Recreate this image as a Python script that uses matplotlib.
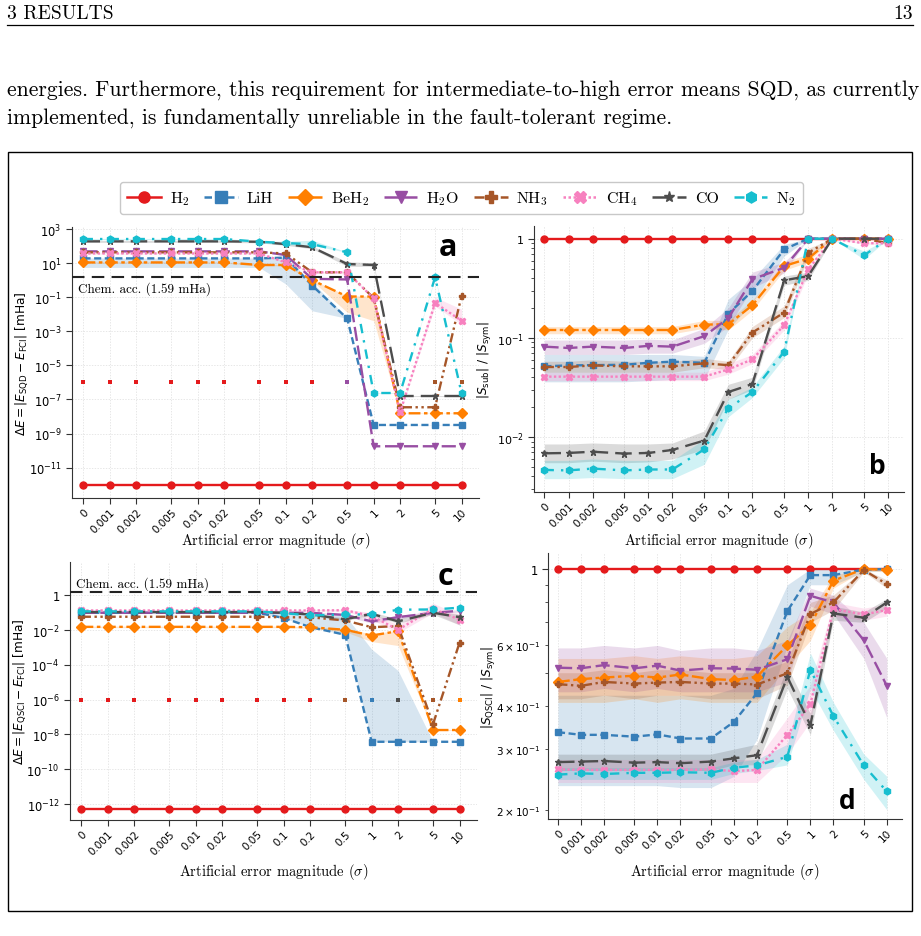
import numpy as np
import matplotlib
matplotlib.use("Agg")
import matplotlib.pyplot as plt
from matplotlib.patches import Rectangle
from matplotlib.lines import Line2D
from matplotlib.font_manager import FontProperties
from matplotlib.ticker import FixedLocator, FuncFormatter, NullLocator

plt.rcParams["axes.formatter.use_mathtext"] = True
plt.rcParams["mathtext.fontset"] = "dejavusans"

# ---- data -------------------------------------------------------------
sigma = [0, 0.001, 0.002, 0.005, 0.01, 0.02, 0.05, 0.1, 0.2, 0.5, 1, 2, 5, 10]
sigma_labels = ["0", "0.001", "0.002", "0.005", "0.01", "0.02", "0.05",
                "0.1", "0.2", "0.5", "1", "2", "5", "10"]

molecules = ["H2", "LiH", "BeH2", "H2O", "NH3", "CH4", "CO", "N2"]
labels = ["H$_2$", "LiH", "BeH$_2$", "H$_2$O", "NH$_3$", "CH$_4$", "CO", "N$_2$"]

chem_acc = 1.59  # mHa

# (a) SQD energy error [mHa]
sqd_err = {
    "H2":   [9e-13, 9e-13, 9e-13, 9e-13, 9e-13, 9e-13, 9e-13, 9e-13, 9e-13, 9e-13, 9e-13, 9e-13, 9e-13, 9e-13],
    "LiH":  [19, 19, 19, 19, 19, 19, 19, 21, 0.48, 0.0057, 3.2e-9, 3.2e-9, 3.2e-9, 3.2e-9],
    "BeH2": [11, 11, 11, 11, 11, 11, 7.8, 7.8, 1.0, 0.11, 0.11, 1.55e-8, 1.55e-8, 1.55e-8],
    "H2O":  [49, 49, 49, 49, 49, 49, 49, 30, 1.2, 1.1, 1.8e-10, 1.8e-10, 1.8e-10, 1.8e-10],
    "NH3":  [43, 43, 43, 43, 43, 43, 43, 37, 2.9, 2.9, 0.09, 3.5e-8, 3.5e-8, 0.12],
    "CH4":  [37, 37, 37, 37, 37, 37, 37, 11, 2.9, 2.9, 0.085, 1.8e-8, 0.046, 0.0042],
    "CO":   [190, 190, 190, 190, 190, 190, 180, 130, 85, 8.9, 7.8, 1.6e-7, 1.6e-7, 1.6e-7],
    "N2":   [260, 260, 260, 260, 260, 260, 180, 150, 130, 43, 2.4e-7, 2.4e-7, 1.5, 2.4e-7],
}
sqd_err_lo = {
    "LiH":  [5.6, 5.6, 5.6, 5.6, 5.6, 5.6, 5.6, 0.6, 0.016, 0.0057, 3.2e-9, 3.2e-9, 3.2e-9, 3.2e-9],
    "BeH2": [10, 10, 10, 10, 10, 10, 7, 7, 0.9, 0.013, 0.0042, 1.5e-8, 1.5e-8, 1.5e-8],
    "CO":   [165, 165, 165, 165, 165, 165, 155, 110, 70, 6.5, 6.5, 1.5e-7, 1.5e-7, 1.5e-7],
    "N2":   [240, 240, 240, 240, 240, 240, 160, 120, 110, 43, 2.3e-7, 2.3e-7, 1.3, 2.3e-7],
    "CH4":  [34, 34, 34, 34, 34, 34, 34, 10, 2.6, 2.6, 0.07, 1.7e-8, 0.03, 0.0025],
}
sqd_err_hi = {
    "LiH":  [20, 20, 20, 20, 20, 20, 20, 22, 0.75, 0.0062, 3.3e-9, 3.3e-9, 3.3e-9, 3.3e-9],
    "BeH2": [12, 12, 12, 12, 12, 12, 8.5, 8.5, 1.1, 0.12, 0.12, 1.6e-8, 1.6e-8, 1.6e-8],
    "CO":   [215, 215, 215, 215, 215, 215, 200, 150, 100, 12, 10.5, 1.7e-7, 1.7e-7, 1.7e-7],
    "N2":   [280, 280, 280, 280, 280, 280, 200, 190, 220, 45, 2.5e-7, 2.5e-7, 1.7, 2.5e-7],
    "CH4":  [40, 40, 40, 40, 40, 40, 40, 12, 3.2, 3.2, 0.1, 1.9e-8, 0.1, 0.02],
}
sqd_floor_idx = [0, 1, 2, 3, 4, 5, 6, 7, 8, 9, 12, 13]
sqd_floor_mol = ["H2", "H2", "H2", "H2", "H2", "H2", "H2", "H2", "H2", "H2O", "NH3", "NH3"]
floor_val = 1e-6

# (b) SQD subspace fraction
sqd_sub = {
    "H2":   [1, 1, 1, 1, 1, 1, 1, 1, 1, 1, 1, 1, 1, 1],
    "LiH":  [0.0516, 0.0527, 0.053, 0.0535, 0.056, 0.0575, 0.056, 0.175, 0.297, 0.78, 1, 1, 1, 1],
    "BeH2": [0.12, 0.12, 0.12, 0.12, 0.12, 0.12, 0.136, 0.137, 0.213, 0.53, 0.63, 1, 1, 1],
    "H2O":  [0.0815, 0.079, 0.0815, 0.079, 0.083, 0.0815, 0.104, 0.158, 0.39, 0.51, 1, 1, 1, 1],
    "NH3":  [0.0508, 0.0508, 0.0527, 0.0516, 0.0516, 0.0516, 0.0553, 0.053, 0.113, 0.18, 0.72, 1, 1, 0.9],
    "CH4":  [0.0406, 0.0406, 0.0406, 0.0406, 0.0406, 0.0406, 0.0406, 0.048, 0.0607, 0.134, 0.49, 1, 0.9, 0.9],
    "CO":   [0.00684, 0.0069, 0.0071, 0.0068, 0.0069, 0.0074, 0.0092, 0.0284, 0.0342, 0.38, 0.42, 1, 1, 1],
    "N2":   [0.00465, 0.0046, 0.0048, 0.0046, 0.0047, 0.0047, 0.0075, 0.0195, 0.0284, 0.0725, 1, 1, 0.68, 1],
}
sqd_sub_lo = {
    "LiH":  [0.036, 0.036, 0.036, 0.036, 0.037, 0.038, 0.038, 0.122, 0.226, 0.668, 1, 1, 1, 1],
    "BeH2": [0.11, 0.11, 0.11, 0.11, 0.11, 0.11, 0.125, 0.12, 0.19, 0.48, 0.58, 1, 1, 1],
    "H2O":  [0.068, 0.068, 0.068, 0.068, 0.07, 0.07, 0.088, 0.13, 0.32, 0.45, 1, 1, 1, 1],
    "NH3":  [0.045, 0.045, 0.045, 0.045, 0.045, 0.045, 0.05, 0.048, 0.1, 0.16, 0.65, 1, 1, 0.88],
    "CH4":  [0.037, 0.037, 0.037, 0.037, 0.037, 0.037, 0.037, 0.043, 0.055, 0.12, 0.44, 1, 0.88, 0.88],
    "CO":   [0.0055, 0.0055, 0.0057, 0.0055, 0.0056, 0.006, 0.0075, 0.024, 0.03, 0.34, 0.38, 1, 1, 1],
    "N2":   [0.0038, 0.0038, 0.0039, 0.0038, 0.0038, 0.0038, 0.0053, 0.016, 0.025, 0.063, 1, 1, 0.62, 1],
}
sqd_sub_hi = {
    "LiH":  [0.068, 0.068, 0.068, 0.068, 0.068, 0.068, 0.065, 0.245, 0.39, 0.877, 1, 1, 1, 1],
    "BeH2": [0.13, 0.13, 0.13, 0.13, 0.13, 0.13, 0.15, 0.15, 0.24, 0.58, 0.7, 1, 1, 1],
    "H2O":  [0.095, 0.095, 0.095, 0.095, 0.097, 0.095, 0.125, 0.2, 0.46, 0.58, 1, 1, 1, 1],
    "NH3":  [0.058, 0.058, 0.06, 0.058, 0.058, 0.058, 0.062, 0.058, 0.13, 0.21, 0.8, 1, 1, 0.92],
    "CH4":  [0.045, 0.045, 0.045, 0.045, 0.045, 0.045, 0.045, 0.055, 0.068, 0.15, 0.55, 1, 0.93, 0.93],
    "CO":   [0.0085, 0.0085, 0.0087, 0.0085, 0.0085, 0.0087, 0.0115, 0.034, 0.04, 0.42, 0.46, 1, 1, 1],
    "N2":   [0.0058, 0.0058, 0.006, 0.0058, 0.0058, 0.0058, 0.0095, 0.024, 0.032, 0.083, 1, 1, 0.75, 1],
}

# (c) QSCI energy error [mHa]
qsci_err = {
    "H2":   [5.1e-13, 5.1e-13, 5.1e-13, 5.1e-13, 5.1e-13, 5.1e-13, 5.1e-13, 5.1e-13, 5.1e-13, 5.1e-13, 5.1e-13, 5.1e-13, 5.1e-13, 5.1e-13],
    "LiH":  [0.1, 0.1, 0.1, 0.1, 0.1, 0.1, 0.1, 0.05, 0.015, 0.0054, 3.8e-9, 3.8e-9, 3.8e-9, 3.8e-9],
    "BeH2": [0.0155, 0.0155, 0.0155, 0.0155, 0.0155, 0.0155, 0.0155, 0.0155, 0.0147, 0.0105, 0.0049, 0.0088, 1.8e-8, 1.8e-8],
    "H2O":  [0.1, 0.1, 0.1, 0.1, 0.1, 0.1, 0.1, 0.1, 0.1, 0.075, 0.032, 0.056, 0.1, 0.13],
    "NH3":  [0.059, 0.059, 0.059, 0.059, 0.059, 0.059, 0.059, 0.055, 0.055, 0.036, 0.0148, 0.017, 4e-8, 0.0019],
    "CH4":  [0.136, 0.136, 0.136, 0.136, 0.136, 0.136, 0.136, 0.136, 0.136, 0.14, 0.065, 0.0105, 0.17, 0.04],
    "CO":   [0.11, 0.11, 0.11, 0.11, 0.11, 0.11, 0.11, 0.1, 0.08, 0.042, 0.087, 0.032, 0.1, 0.056],
    "N2":   [0.12, 0.12, 0.12, 0.12, 0.12, 0.12, 0.12, 0.095, 0.07, 0.08, 0.08, 0.15, 0.155, 0.195],
}
qsci_err_lo = {
    "LiH":  [0.1, 0.1, 0.1, 0.1, 0.1, 0.1, 0.1, 0.05, 0.015, 0.0054, 3.8e-9, 3.8e-9, 3.8e-9, 3.8e-9],
    "BeH2": [0.014, 0.014, 0.014, 0.014, 0.014, 0.014, 0.014, 0.014, 0.013, 0.008, 0.0022, 0.0013, 1.7e-8, 1.7e-8],
    "H2O":  [0.09, 0.09, 0.09, 0.09, 0.09, 0.09, 0.09, 0.09, 0.09, 0.065, 0.025, 0.045, 0.085, 0.11],
    "CH4":  [0.125, 0.125, 0.125, 0.125, 0.125, 0.125, 0.125, 0.125, 0.125, 0.125, 0.04, 0.007, 0.1, 0.02],
    "CO":   [0.1, 0.1, 0.1, 0.1, 0.1, 0.1, 0.1, 0.09, 0.07, 0.035, 0.07, 0.025, 0.08, 0.02],
}
qsci_err_hi = {
    "LiH":  [0.11, 0.11, 0.11, 0.11, 0.11, 0.11, 0.11, 0.1, 0.09, 0.07, 8e-4, 4.7e-5, 3.8e-9, 3.8e-9],
    "BeH2": [0.017, 0.017, 0.017, 0.017, 0.017, 0.017, 0.017, 0.017, 0.016, 0.012, 0.006, 0.01, 1.9e-8, 1.9e-8],
    "H2O":  [0.11, 0.11, 0.11, 0.11, 0.11, 0.11, 0.11, 0.11, 0.11, 0.085, 0.04, 0.07, 0.12, 0.15],
    "CH4":  [0.15, 0.15, 0.15, 0.15, 0.15, 0.15, 0.15, 0.15, 0.15, 0.16, 0.1, 0.02, 0.35, 0.08],
    "CO":   [0.12, 0.12, 0.12, 0.12, 0.12, 0.12, 0.12, 0.11, 0.09, 0.05, 0.11, 0.045, 0.13, 0.08],
}
qsci_floor_idx = [0, 1, 2, 3, 4, 5, 6, 7, 8, 9, 10, 11, 12, 13]
qsci_floor_mol = ["H2", "H2", "H2", "H2", "H2", "H2", "H2", "H2", "H2", "NH3", "LiH", "CO", "NH3", "BeH2"]

# (d) QSCI subspace fraction
qsci_sub = {
    "H2":   [1, 1, 1, 1, 1, 1, 1, 1, 1, 1, 1, 1, 1, 1],
    "LiH":  [0.336, 0.33, 0.33, 0.326, 0.331, 0.322, 0.322, 0.36, 0.436, 0.755, 0.96, 0.96, 0.996, 1],
    "BeH2": [0.47, 0.479, 0.484, 0.49, 0.484, 0.494, 0.479, 0.476, 0.487, 0.6, 0.687, 0.925, 1, 0.995],
    "H2O":  [0.517, 0.515, 0.526, 0.515, 0.524, 0.507, 0.515, 0.514, 0.51, 0.547, 0.836, 0.8, 0.621, 0.458],
    "NH3":  [0.463, 0.458, 0.47, 0.465, 0.468, 0.47, 0.465, 0.465, 0.462, 0.498, 0.74, 0.8, 0.993, 0.904],
    "CH4":  [0.262, 0.261, 0.261, 0.261, 0.261, 0.261, 0.262, 0.259, 0.261, 0.33, 0.405, 0.765, 0.738, 0.76],
    "CO":   [0.275, 0.276, 0.277, 0.274, 0.275, 0.273, 0.276, 0.282, 0.288, 0.486, 0.352, 0.743, 0.722, 0.8],
    "N2":   [0.253, 0.255, 0.254, 0.256, 0.256, 0.257, 0.256, 0.265, 0.269, 0.285, 0.51, 0.374, 0.269, 0.226],
}
qsci_sub_lo = {
    "LiH":  [0.235, 0.235, 0.235, 0.235, 0.235, 0.232, 0.232, 0.25, 0.32, 0.6, 0.9, 0.9, 0.98, 0.99],
    "BeH2": [0.41, 0.41, 0.41, 0.42, 0.41, 0.42, 0.41, 0.41, 0.41, 0.52, 0.62, 0.88, 0.99, 0.98],
    "H2O":  [0.44, 0.44, 0.45, 0.44, 0.45, 0.44, 0.44, 0.44, 0.44, 0.47, 0.78, 0.74, 0.55, 0.37],
    "NH3":  [0.42, 0.42, 0.43, 0.42, 0.43, 0.43, 0.42, 0.42, 0.42, 0.46, 0.7, 0.76, 0.98, 0.88],
    "CH4":  [0.24, 0.24, 0.24, 0.24, 0.24, 0.24, 0.24, 0.24, 0.24, 0.29, 0.36, 0.73, 0.71, 0.73],
    "CO":   [0.26, 0.26, 0.26, 0.26, 0.26, 0.26, 0.26, 0.27, 0.27, 0.45, 0.33, 0.71, 0.7, 0.77],
    "N2":   [0.245, 0.245, 0.245, 0.245, 0.245, 0.245, 0.245, 0.255, 0.26, 0.27, 0.45, 0.34, 0.245, 0.2],
}
qsci_sub_hi = {
    "LiH":  [0.43, 0.43, 0.43, 0.43, 0.43, 0.43, 0.43, 0.45, 0.58, 0.9, 1.0, 1.0, 1.0, 1.0],
    "BeH2": [0.55, 0.55, 0.55, 0.56, 0.55, 0.56, 0.55, 0.55, 0.56, 0.68, 0.75, 0.96, 1.0, 1.0],
    "H2O":  [0.59, 0.59, 0.6, 0.59, 0.6, 0.58, 0.59, 0.59, 0.58, 0.62, 0.88, 0.84, 0.7, 0.55],
    "NH3":  [0.5, 0.5, 0.51, 0.5, 0.51, 0.51, 0.5, 0.5, 0.5, 0.54, 0.8, 0.84, 1.0, 0.93],
    "CH4":  [0.28, 0.28, 0.28, 0.28, 0.28, 0.28, 0.28, 0.28, 0.28, 0.37, 0.46, 0.8, 0.77, 0.79],
    "CO":   [0.29, 0.29, 0.29, 0.29, 0.29, 0.29, 0.29, 0.3, 0.31, 0.52, 0.38, 0.78, 0.75, 0.82],
    "N2":   [0.265, 0.265, 0.265, 0.265, 0.265, 0.265, 0.265, 0.275, 0.28, 0.31, 0.57, 0.41, 0.29, 0.25],
}

# ---- styling ------------------------------------------------------------
colors = {"H2": "#e41a1c", "LiH": "#377eb8", "BeH2": "#ff7f00", "H2O": "#984ea3",
          "NH3": "#a65628", "CH4": "#f781bf", "CO": "#4d4d4d", "N2": "#17becf"}
markers = {"H2": "o", "LiH": "s", "BeH2": "D", "H2O": "v",
           "NH3": "P", "CH4": "X", "CO": "*", "N2": "h"}
styles = {"H2": "-", "LiH": (0, (3, 1.5)), "BeH2": (0, (5, 1.5, 1.5, 1.5)),
          "H2O": (0, (6, 2)), "NH3": (0, (4, 1.5, 1, 1.5, 1, 1.5)),
          "CH4": (0, (1, 1)), "CO": (0, (7, 3)), "N2": (0, (4, 3, 1, 3))}

x = np.where(np.array(sigma) == 0, 5e-4, np.array(sigma, dtype=float))

W, H = 921, 937
fig = plt.figure(figsize=(W / 100, H / 100), dpi=100)


def px(l, t, r, b):
    return [l / W, 1 - b / H, (r - l) / W, (b - t) / H]


def pow_fmt(v, pos):
    if v <= 0:
        return ""
    e = int(round(np.log10(v)))
    if e == 0:
        return "1"
    return r"$10^{%d}$" % e


def setup(ax, xlab_y, ylab_x):
    ax.set_xscale("log")
    ax.set_yscale("log")
    ax.set_xlim(3.7e-4, 15.8)
    ax.xaxis.set_major_locator(FixedLocator(x))
    ax.xaxis.set_minor_locator(NullLocator())
    ax.set_xticklabels(sigma_labels, rotation=45, ha="right",
                       rotation_mode="anchor", fontsize=7.5)
    for s in ["top", "right"]:
        ax.spines[s].set_visible(False)
    for s in ["left", "bottom"]:
        ax.spines[s].set_color("#333333")
    ax.tick_params(axis="both", which="major", length=4, color="#333333", labelsize=8.3)
    ax.tick_params(axis="x", which="major", labelsize=7.5, pad=2)
    ax.tick_params(axis="y", which="minor", length=2, color="#333333", labelsize=7.5)
    ax.grid(True, which="major", ls=(0, (2, 2)), lw=0.5, color="#dddddd")
    ax.set_axisbelow(True)
    ax.set_xlabel(r"Artificial error magnitude ($\sigma$)", fontfamily="cmr10",
                  fontsize=10.5, math_fontfamily="cm")
    ax.xaxis.set_label_coords(0.5, xlab_y)
    ax.yaxis.set_label_coords(ylab_x, 0.5)


def draw(ax, means, lo, hi, ms=5):
    for m in molecules:
        c = colors[m]
        if m in lo:
            ax.fill_between(x, lo[m], hi[m], color=c, alpha=0.2, lw=0, zorder=2)
        ax.plot(x, means[m], color=c, ls=styles[m], marker=markers[m],
                ms=ms, lw=1.7, zorder=3)


def floor_points(ax, idx, mols):
    for i, m in zip(idx, mols):
        ax.scatter([x[i]], [floor_val], s=6, marker="s", color=colors[m],
                   lw=0, zorder=2.5)


# (a)
axa = fig.add_axes(px(72, 228, 479, 499))
setup(axa, -0.118, -0.103)
draw(axa, sqd_err, sqd_err_lo, sqd_err_hi)
floor_points(axa, sqd_floor_idx, sqd_floor_mol)
axa.set_ylim(10 ** -12.78, 10 ** 3.12)
axa.yaxis.set_major_locator(FixedLocator([1e3, 1e1, 1e-1, 1e-3, 1e-5, 1e-7, 1e-9, 1e-11]))
axa.yaxis.set_minor_locator(NullLocator())
axa.yaxis.set_major_formatter(FuncFormatter(pow_fmt))
axa.axhline(chem_acc, color="#222222", ls=(0, (6, 3.5)), lw=1.5, zorder=4)
axa.text(0.015, 0.775, "Chem. acc. (1.59 mHa)", transform=axa.transAxes,
         fontfamily="cmr10", fontsize=9.5, va="center", ha="left")
axa.set_ylabel(r"$\Delta E = |E_{\rm SQD} - E_{\rm FCI}|$ [mHa]", fontsize=8.7)

# (b)
axb = fig.add_axes(px(534, 227, 904, 493))
setup(axb, -0.143, -0.108)
draw(axb, sqd_sub, sqd_sub_lo, sqd_sub_hi)
axb.set_ylim(10 ** -2.555, 10 ** 0.128)
axb.yaxis.set_major_formatter(FuncFormatter(pow_fmt))
axb.tick_params(axis="y", which="major", labelsize=8)
axb.set_ylabel(r"$|S_{\rm sub}|\ /\ |S_{\rm sym}|$", fontsize=8.7)

# (c)
axc = fig.add_axes(px(70, 563, 477, 821))
setup(axc, -0.159, -0.103)
draw(axc, qsci_err, qsci_err_lo, qsci_err_hi)
floor_points(axc, qsci_floor_idx, qsci_floor_mol)
axc.set_ylim(10 ** -12.92, 10 ** 1.92)
axc.yaxis.set_major_locator(FixedLocator([1, 1e-2, 1e-4, 1e-6, 1e-8, 1e-10, 1e-12]))
axc.yaxis.set_minor_locator(NullLocator())
axc.yaxis.set_major_formatter(FuncFormatter(pow_fmt))
axc.axhline(chem_acc, color="#222222", ls=(0, (6, 3.5)), lw=1.5, zorder=4)
axc.text(0.015, 0.919, "Chem. acc. (1.59 mHa)", transform=axc.transAxes,
         fontfamily="cmr10", fontsize=9.5, va="center", ha="left")
axc.set_ylabel(r"$\Delta E = |E_{\rm QSCI} - E_{\rm FCI}|$ [mHa]", fontsize=8.7)

# (d)
axd = fig.add_axes(px(548, 554, 902, 820))
setup(axd, -0.158, -0.141)
draw(axd, qsci_sub, qsci_sub_lo, qsci_sub_hi)
axd.set_ylim(0.188, 1.113)
axd.yaxis.set_major_formatter(FuncFormatter(pow_fmt))
axd.set_ylabel(r"$|S_{\rm QSCI}|\ /\ |S_{\rm sym}|$", fontsize=8.7)

for letter, pos, size in [("a", (448, 248), 22), ("b", (877, 467), 19),
                          ("c", (445, 577), 22), ("d", (847, 802), 19)]:
    fig.text(pos[0] / W, 1 - pos[1] / H, letter, fontsize=size, fontweight="bold",
             fontfamily="Open Sans", ha="center", va="center")

# legend
handles = [Line2D([], [], color=colors[m], ls=styles[m], marker=markers[m],
                  ms=8, lw=1.8) for m in molecules]
fig.legend(handles, labels, loc="center", bbox_to_anchor=(461.5 / W, 1 - 199 / H),
           ncol=8, prop=FontProperties(family="cmr10", size=11.5, math_fontfamily="cm"),
           handlelength=2.1, columnspacing=0.95, handletextpad=0.55,
           frameon=True, edgecolor="#bbbbbb", fancybox=True, borderpad=0.45)

# ---- page around the figure ---------------------------------------------
fig.text(7 / W, 1 - 14 / H, "3 RESULTS", fontfamily="cmr10", fontsize=14,
         va="center", ha="left")
fig.text(913 / W, 1 - 14 / H, "13", fontfamily="cmr10", fontsize=14,
         va="center", ha="right")
fig.add_artist(Line2D([7 / W, 913 / W], [1 - 25.5 / H, 1 - 25.5 / H],
                      transform=fig.transFigure, color="black", lw=0.9))

line1 = fig.text(7 / W, 1 - 90 / H,
                 "energies. Furthermore, this requirement for intermediate-to-high error means SQD, as currently",
                 fontfamily="cmr10", fontsize=16, va="center", ha="left")
fig.canvas.draw()
r = fig.canvas.get_renderer()
wpx = line1.get_window_extent(r).width
fs = 16 * 906 / wpx
line1.set_fontsize(fs)
fig.text(7 / W, 1 - 118 / H,
         "implemented, is fundamentally unreliable in the fault-tolerant regime.",
         fontfamily="cmr10", fontsize=fs, va="center", ha="left")

fig.add_artist(Rectangle((8 / W, 1 - 912 / H), 904 / W, 759 / H, fill=False,
                         lw=1.0, edgecolor="black", transform=fig.transFigure))

fig.savefig("out.png", dpi=100)
